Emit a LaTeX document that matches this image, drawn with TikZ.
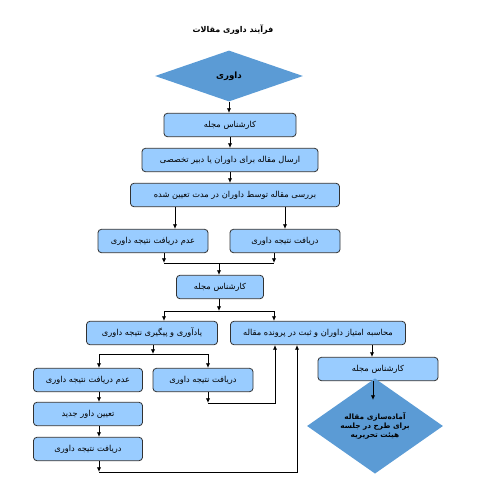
\documentclass[tikz,border=0pt]{standalone}
\usepackage{fontspec}
\usetikzlibrary{shapes.geometric,arrows.meta}
\newfontfamily\fa[Script=Arabic]{DejaVu Sans}
\TeXXeTstate=1
\definecolor{boxfill}{RGB}{153,204,255}
\definecolor{diafill}{RGB}{91,155,213}
\definecolor{boxline}{RGB}{50,50,50}
\tikzset{
  box/.style={draw=boxline,line width=0.6pt,fill=boxfill,rounded corners=2.5pt,inner sep=0pt,
    minimum height=17.5pt,font=\fa\fontsize{6.2}{7}\selectfont},
  dia/.style={shape=diamond,fill=diafill,inner sep=0pt,font=\fa\bfseries\fontsize{5.5}{6.5}\selectfont,align=center},
  arr/.style={line width=0.6pt,-{Latex[length=3.5pt,width=3.2pt]}},
  ln/.style={line width=0.6pt}
}
\begin{document}
\begin{tikzpicture}[x=0.75pt,y=-0.75pt]
\useasboundingbox (0,0) rectangle (491,497);
\node[font=\fa\bfseries\fontsize{6}{7}\selectfont] (title) at (233,30) {\beginR فرآیند داوری مقالات\endR};
\node[dia,minimum width=148*0.75pt,minimum height=51*0.75pt,font=\fa\bfseries\fontsize{6.5}{7.5}\selectfont] (d1) at (229,76) {\beginR داوری\endR};
\node[box,minimum width=132*0.75pt] (b1) at (230,125) {\beginR کارشناس مجله\endR};
\node[box,minimum width=176*0.75pt] (b2) at (230,160) {\beginR ارسال مقاله برای داوران یا دبیر تخصصی\endR};
\node[box,minimum width=209*0.75pt] (b3) at (235,195) {\beginR بررسی مقاله توسط داوران در مدت تعیین شده\endR};
\node[box,minimum width=110*0.75pt] (nl) at (153,241) {\beginR عدم دریافت نتیجه داوری\endR};
\node[box,minimum width=110*0.75pt] (nr) at (285,241) {\beginR دریافت نتیجه داوری\endR};
\node[box,minimum width=87*0.75pt] (b4) at (220,287) {\beginR کارشناس مجله\endR};
\node[box,minimum width=131*0.75pt] (b5) at (152,333) {\beginR یادآوری و پیگیری نتیجه داوری\endR};
\node[box,minimum width=175*0.75pt] (b6) at (318,333) {\beginR محاسبه امتیاز داوران و ثبت در پرونده مقاله\endR};
\node[box,minimum width=109*0.75pt] (c1) at (88,380) {\beginR عدم دریافت نتیجه داوری\endR};
\node[box,minimum width=100*0.75pt] (c2) at (203,380) {\beginR دریافت نتیجه داوری\endR};
\node[box,minimum width=109*0.75pt] (c3) at (88,414) {\beginR تعیین داور جدید\endR};
\node[box,minimum width=109*0.75pt] (c4) at (88,449) {\beginR دریافت نتیجه داوری\endR};
\node[box,minimum width=120*0.75pt] (r1) at (378,369) {\beginR کارشناس مجله\endR};
\node[dia,minimum width=136*0.75pt,minimum height=68*0.75pt] (d2) at (375,426) {\beginR آماده‌سازی مقاله\endR\\\beginR برای طرح در جلسه\endR\\\beginR هیئت تحریریه\endR};
% coordinates
\coordinate (j1) at (219,263);
\coordinate (j1l) at (164,263);
\coordinate (j1r) at (274,263);
\coordinate (j2) at (219,311);
\coordinate (j2l) at (164,311);
\coordinate (j2r) at (274,311);
\coordinate (j3) at (153,354);
\coordinate (j3l) at (99,354);
\coordinate (j3r) at (208,354);
\coordinate (k1) at (208,403);
\coordinate (k2) at (275,403);
\coordinate (m1) at (99,472);
\coordinate (m2) at (297,472);
% connectors
\draw[arr] (d1.south) -- (b1.north -| d1.south);
\draw[arr] (b1.south) -- (b2.north);
\draw[arr] (b2.south) -- (b2.south |- b3.north);
\draw[arr] (b3.south -| 175,0) -- (nl.north -| 175,0);
\draw[arr] (b3.south -| nr.north) -- (nr.north);
\draw[arr] (nl.south -| j1l) -- (j1l);
\draw[arr] (nr.south -| j1r) -- (j1r);
\draw[ln] (j1l) -- (j1r);
\draw[arr] (j1) -- (b4.north -| j1);
\draw[arr] (b4.south -| j2) -- (j2);
\draw[ln] (j2l) -- (j2r);
\draw[arr] (j2l) -- (b5.north -| j2l);
\draw[arr] (j2r) -- (b6.north -| j2r);
\draw[arr] (b5.south -| j3) -- (j3);
\draw[ln] (j3l) -- (j3r);
\draw[arr] (j3l) -- (c1.north -| j3l);
\draw[arr] (j3r) -- (c2.north -| j3r);
\draw[arr] (c2.south -| k1) -- (k1);
\draw[arr] (k1) -- (k2) -- (b6.south -| k2);
\draw[arr] (c1.south -| j3l) -- (c3.north -| j3l);
\draw[arr] (c3.south -| j3l) -- (c4.north -| j3l);
\draw[arr] (c4.south -| m1) -- (m1);
\draw[arr] (m1) -- (m2) -- (b6.south -| m2);
\draw[arr] (b6.south -| 372,0) -- (r1.north -| 372,0);
\draw[arr] (r1.south -| 373,0) -- (373,400);
\end{tikzpicture}
\end{document}
